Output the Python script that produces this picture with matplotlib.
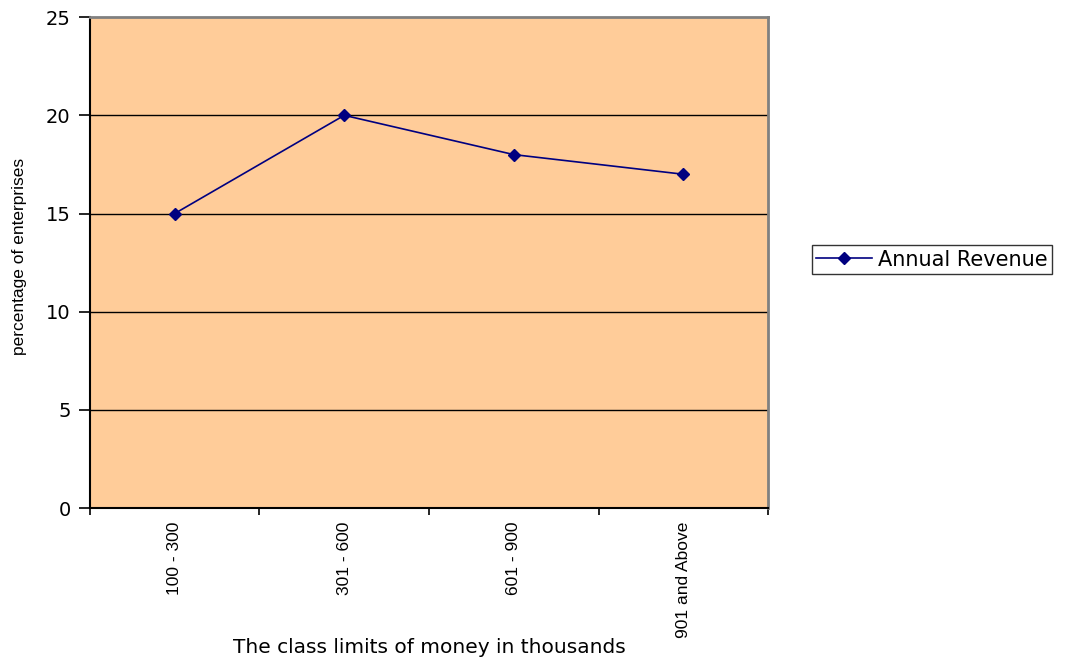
import numpy as np
import matplotlib.pyplot as plt
from matplotlib.ticker import FixedLocator

# data
categorias = ["100 - 300", "301 - 600", "601 - 900", "901 and Above"]
percentuais = [15, 20, 18, 17]
y_ticks = [0, 5, 10, 15, 20, 25]

plt.rcParams["font.family"] = ["Liberation Sans", "DejaVu Sans"]
largo = ["DejaVu Sans"]  # wider face for horizontal text

fig = plt.figure(figsize=(10.66, 6.59), dpi=100)
ax = fig.add_axes([0.0844, 0.229, 0.6361, 0.745])
ax.set_facecolor("#FFCC99")

x = np.arange(len(categorias))
ax.plot(x, percentuais, color="#000080", marker="D", markersize=6.5,
        linewidth=1.2, label="Annual Revenue", zorder=3)

ax.set_xlim(-0.5, len(categorias) - 0.5)
ax.set_ylim(0, 25)
ax.set_yticks(y_ticks)
for v in y_ticks[1:-1]:
    ax.axhline(v, color="black", linewidth=1.0, zorder=1)

# category labels centered, tick marks at boundaries
ax.set_xticks(x)
ax.set_xticklabels(categorias, rotation=90, fontsize=12.5)
ax.tick_params(axis="x", which="major", length=0, pad=10)
ax.xaxis.set_minor_locator(FixedLocator(np.arange(-0.5, len(categorias), 1.0)))
ax.tick_params(axis="x", which="minor", length=5, width=1.2, direction="out")
ax.tick_params(axis="y", length=8, width=1.2, pad=6)
for t in ax.get_yticklabels():
    t.set_family(largo)
    t.set_fontsize(14)

for s in ["left", "bottom"]:
    ax.spines[s].set_color("black")
    ax.spines[s].set_linewidth(1.5)
for s in ["top", "right"]:
    ax.spines[s].set_color("#808080")
    ax.spines[s].set_linewidth(2)

ax.set_xlabel("The class limits of money in thousands", fontsize=14.5,
              family=largo)
ax.xaxis.set_label_coords(0.5, -0.264)
ax.set_ylabel("percentage of enterprises", fontsize=12.5)
ax.yaxis.set_label_coords(-0.093, 0.513)

leg = fig.legend(loc="center left", bbox_to_anchor=(0.7615, 0.606),
                 prop={"family": largo, "size": 15}, frameon=True,
                 fancybox=False, handlelength=2.7,
                 borderpad=0.2, handletextpad=0.3, borderaxespad=0)
leg.get_frame().set_edgecolor("black")
leg.get_frame().set_linewidth(1.0)

fig.savefig("out.png", dpi=100)
